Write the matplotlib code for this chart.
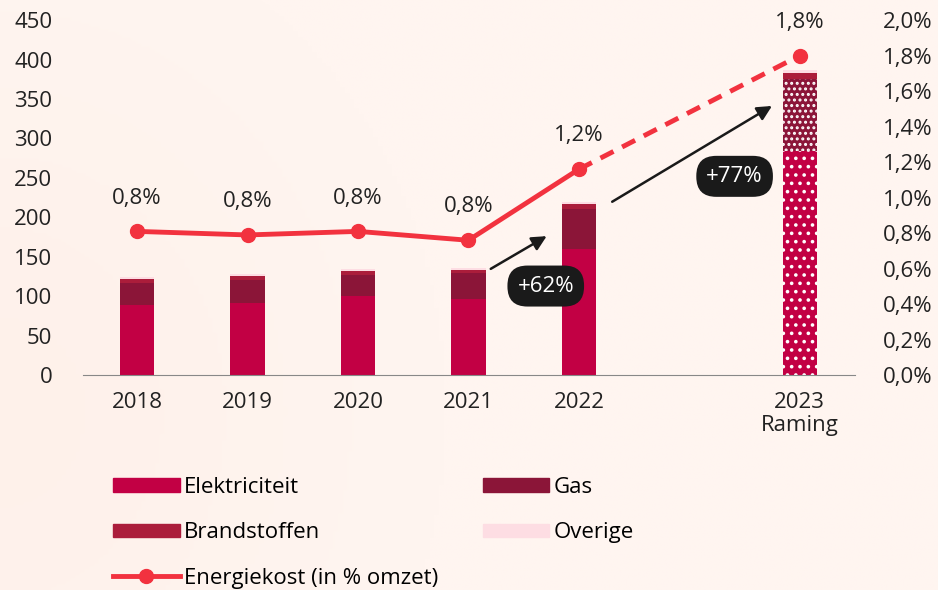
import numpy as np
import matplotlib.pyplot as plt
from matplotlib.patches import Patch
from matplotlib.lines import Line2D

plt.rcParams['font.family'] = ['Open Sans', 'DejaVu Sans']

years = ['2018', '2019', '2020', '2021', '2022', '2023\nRaming']
xpos = [0, 1, 2, 3, 4, 6]
elektriciteit = [89, 92, 100, 96, 160, 284]
gas = [28, 29, 27, 33, 50, 91]
brandstoffen = [5, 4.5, 5, 4.5, 6.5, 8]
overige = [2.5, 3, 2, 2, 2.5, 4]
energiekost = [0.81, 0.79, 0.81, 0.76, 1.16, 1.80]
kost_labels = ['0,8%', '0,8%', '0,8%', '0,8%', '1,2%', '1,8%']

c_elek = '#c20044'
c_gas = '#8b1538'
c_brand = '#ab1d3b'
c_over = '#fddde3'
c_line = '#f2323f'
fs = 16

fig = plt.figure(figsize=(9.38, 5.9), dpi=100)
fig.patch.set_facecolor('#fefafa')

# faint pink glow in background
bg = fig.add_axes([0, 0, 1, 1], zorder=-10)
gx, gy = np.meshgrid(np.linspace(0, 1, 200), np.linspace(0, 1, 200))
glow = np.exp(-((gx) ** 2 / 0.12 + (gy - 0.3) ** 2 / 0.4))
bg.imshow(glow, cmap='Reds', vmin=0, vmax=40, extent=[0, 1, 0, 1], aspect='auto', origin='lower')
bg.axis('off')

ax = fig.add_axes([0.0885, 0.364, 0.823, 0.602])
ax.patch.set_alpha(0)
w = 0.31

ax.bar(xpos[:5], elektriciteit[:5], w, color=c_elek, lw=0)
bottom = np.array(elektriciteit[:5])
ax.bar(xpos[:5], gas[:5], w, bottom=bottom, color=c_gas, lw=0)
bottom = bottom + np.array(gas[:5])
ax.bar(xpos[:5], brandstoffen[:5], w, bottom=bottom, color=c_brand, lw=0)
bottom = bottom + np.array(brandstoffen[:5])
ax.bar(xpos[:5], overige[:5], w, bottom=bottom, color=c_over, lw=0)

# 2023 forecast bar with dotted fill
plt.rcParams['hatch.linewidth'] = 1.4
b = 0
ax.bar(xpos[5], elektriciteit[5], w, color=c_elek, edgecolor='white', hatch='..', lw=0)
b += elektriciteit[5]
ax.bar(xpos[5], gas[5], w, bottom=b, color=c_gas, edgecolor='white', hatch='...', lw=0)
b += gas[5]
ax.bar(xpos[5], brandstoffen[5], w, bottom=b, color=c_brand, lw=0)
b += brandstoffen[5]
ax.bar(xpos[5], overige[5], w, bottom=b, color=c_over, lw=0)

ax.set_ylim(0, 450)
ax.set_yticks(range(0, 451, 50))
ax.set_xlim(-0.49, 6.5)
ax.set_xticks(xpos)
ax.set_xticklabels(years, fontsize=fs, color='#222222', linespacing=1.1)
ax.tick_params(axis='x', length=0, pad=12)
ax.tick_params(axis='y', length=0, labelsize=fs, labelcolor='#222222', pad=22)
for s in ['top', 'left', 'right']:
    ax.spines[s].set_visible(False)
ax.spines['bottom'].set_color('#888888')

ax2 = ax.twinx()
ax2.set_ylim(0, 2.0)
ax2.set_yticks(np.arange(0, 2.01, 0.2))
ax2.set_yticklabels([f'{v:.1f}%'.replace('.', ',') for v in np.arange(0, 2.01, 0.2)])
ax2.tick_params(axis='y', length=0, labelsize=fs, labelcolor='#222222', pad=20)
for s in ['top', 'left', 'right', 'bottom']:
    ax2.spines[s].set_visible(False)

ax2.plot(xpos[:5], energiekost[:5], color=c_line, lw=3.5, marker='o', ms=10, zorder=5)
ax2.plot(xpos[4:], energiekost[4:], color=c_line, lw=3.5, ls=(0, (3, 2)), zorder=5)
ax2.plot(xpos[5], energiekost[5], color=c_line, marker='o', ms=10, zorder=5)
for x, v, t in zip(xpos, energiekost, kost_labels):
    ax2.annotate(t, (x, v), xytext=(0, 24), textcoords='offset points',
                 ha='center', va='center', fontsize=fs, color='#222222')

# growth arrows
box = dict(boxstyle='round,pad=0.45,rounding_size=0.9', fc='#1a1a1a', ec='none')
ax.annotate('', xy=(3.73, 178), xytext=(3.18, 133),
            arrowprops=dict(arrowstyle='-|>', color='#1a1a1a', lw=1.8, mutation_scale=22))
ax.text(3.70, 113, '+62%', ha='center', va='center', color='white', fontsize=fs, bbox=box)
ax.annotate('', xy=(5.77, 343), xytext=(4.28, 218),
            arrowprops=dict(arrowstyle='-|>', color='#1a1a1a', lw=1.8, mutation_scale=22))
ax.text(5.41, 252, '+77%', ha='center', va='center', color='white', fontsize=fs, bbox=box)

handles = [
    Patch(color=c_elek, label='Elektriciteit'),
    Patch(color=c_brand, label='Brandstoffen'),
    Line2D([0], [0], color=c_line, lw=3.5, marker='o', ms=10, label='Energiekost (in % omzet)'),
    Patch(color=c_gas, label='Gas'),
    Patch(color=c_over, label='Overige'),
]
fig.legend(handles=handles, loc='upper left', bbox_to_anchor=(0.111, 0.207), ncol=2,
           frameon=False, fontsize=fs, handlelength=3.0, handleheight=0.55,
           columnspacing=2.0, labelspacing=1.1, handletextpad=0.2, borderaxespad=0)

fig.savefig('out.png', dpi=100, facecolor=fig.get_facecolor())
